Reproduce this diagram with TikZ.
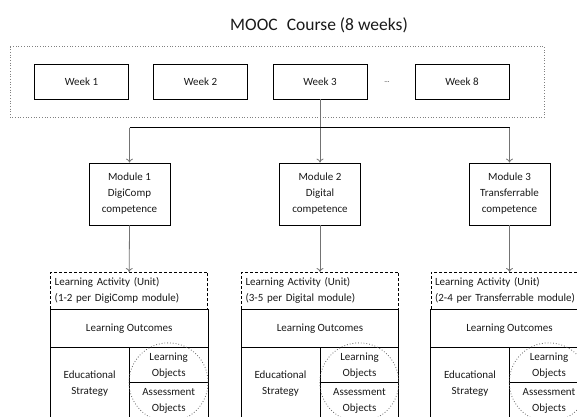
\documentclass[tikz,border=0pt]{standalone}
\usepackage{fontspec}
\setmainfont{Carlito}
\usetikzlibrary{arrows.meta,positioning,calc}

\begin{document}
\begin{tikzpicture}[x=1pt,y=-1pt,
    every node/.style={font=\fontsize{11}{16}\selectfont,text=black!90},
    weekbox/.style={draw,line width=0.8pt,minimum width=94pt,minimum height=35pt,inner sep=0pt},
    modbox/.style={draw,line width=0.8pt,minimum width=81pt,minimum height=62pt,align=center,inner sep=0pt},
    unitbox/.style={draw,dash pattern=on 3pt off 2pt,line width=0.7pt,text width=149pt,
                    minimum height=37pt,inner sep=4pt,align=left},
    link/.style={-{To[length=4pt,width=7pt]},black!55,line width=0.8pt}]
  \clip (0,0) rectangle (577,416);

  % course and its weeks
  \node (title) at (319,25) {\fontsize{17.5}{20}\selectfont MOOC\hspace{0.3em} Course (8 weeks)};
  \draw[gray,dotted,line width=0.7pt] (10,46.5) rectangle (544.5,117.3);
  \foreach \x/\t/\n in {81.5/{Week 1}/week1,200.5/{Week 2}/week2,320/{Week 3}/week3,462/{Week 8}/week8}
    \node[weekbox] (\n) at (\x,81.5) {\t};
  \node (dots) at (387,82.5) {\fontsize{7}{8}\selectfont ...};

  % modules
  \node[modbox] (mod1) at (129.5,194) {Module 1\\DigiComp\\competence};
  \node[modbox] (mod2) at (320,194)   {Module 2\\Digital\\competence};
  \node[modbox] (mod3) at (509.5,194) {Module 3\\Transferrable\\competence};

  \coordinate (bus) at (320,127.7);
  \draw[black!55,line width=0.8pt] (week3.south) -- (bus);
  \draw[line width=0.8pt] (mod1.north |- bus) -- (mod3.north |- bus);

  % learning activities
  \foreach \i/\x/\t in {1/129.2/{DigiComp},2/320/{Digital},3/509.5/{Transferrable}}{
    \node[unitbox] (unit\i) at (\x,290.8) {Learning Activity (Unit)\\(\ifcase\i\or1-2\or3-5\or2-4\fi{} per \t{} module)};
    \draw[link] (mod\i.north |- bus) -- (mod\i.north);
    \draw[link] (mod\i.south) -- (unit\i.north);
    % unit table
    \draw[line width=0.8pt] (unit\i.south west) rectangle ($(unit\i.south east)+(0,115)$);
    \draw[line width=0.8pt] ($(unit\i.south west)+(0,38)$) -- ($(unit\i.south east)+(0,38)$);
    \draw[line width=0.8pt] ($(unit\i.south)+(0,38)$) -- ($(unit\i.south)+(0,115)$);
    \draw[line width=0.8pt] ($(unit\i.south)+(0,72.7)$) -- ($(unit\i.south east)+(0,72.7)$);
    \draw[black!60,dotted,line width=0.8pt] ($(unit\i.south)+(39.3,72.7)$) circle (39.5);
    \node (lo\i) at ($(unit\i.south)+(0,19)$) {Learning Outcomes};
    \node[align=center] (es\i) at ($(unit\i.south)+(-39.5,74)$) {Educational\\Strategy};
    \node[align=center] (lob\i) at ($(unit\i.south)+(39.5,56)$) {Learning\\Objects};
    \node[align=center] (ao\i) at ($(unit\i.south)+(39.5,91.5)$) {Assessment\\Objects};
  }
\end{tikzpicture}
\end{document}
